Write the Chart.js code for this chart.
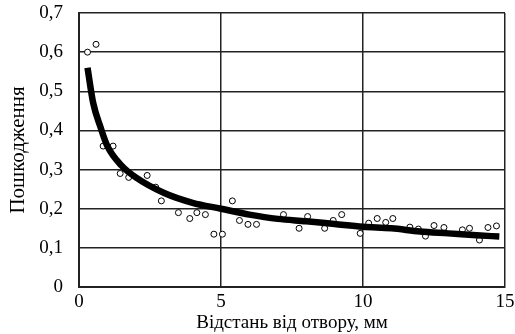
<!DOCTYPE html>
<html>
<head>
<meta charset="utf-8">
<script src="https://cdn.jsdelivr.net/npm/chart.js@4/dist/chart.umd.min.js"></script>
<style>
  html, body { margin: 0; padding: 0; background: #fff; }
  #wrap { width: 515px; height: 334px; }
</style>
</head>
<body>
<div id="wrap"><canvas id="c" width="515" height="334"></canvas></div>
<script>
// Measured points (distance, mm ; damage)
const pointX = [0.3, 0.6, 0.85, 1.2, 1.45, 1.75, 2.4, 2.7, 2.9, 3.5, 3.9, 4.15, 4.45, 4.75, 5.05, 5.4, 5.65, 5.95, 6.25, 7.2, 7.75, 8.05, 8.65, 8.95, 9.25, 9.9, 10.2, 10.5, 10.8, 11.05, 11.65, 11.95, 12.2, 12.5, 12.85, 13.5, 13.75, 14.1, 14.4, 14.7];
const pointY = [0.60, 0.62, 0.36, 0.36, 0.29, 0.28, 0.285, 0.255, 0.22, 0.19, 0.175, 0.19, 0.185, 0.135, 0.135, 0.22, 0.17, 0.16, 0.16, 0.185, 0.15, 0.18, 0.15, 0.17, 0.185, 0.137, 0.163, 0.175, 0.165, 0.175, 0.153, 0.148, 0.13, 0.157, 0.152, 0.146, 0.15, 0.12, 0.152, 0.156];

// Trend curve
const curveX = [0.3, 0.5, 0.75, 1.0, 1.5, 2, 3, 4, 5, 6, 7, 8, 9, 10, 11, 12, 13, 14, 14.8];
const curveY = [0.56, 0.47, 0.41, 0.36, 0.31, 0.28, 0.24, 0.215, 0.20, 0.185, 0.174, 0.168, 0.161, 0.154, 0.150, 0.142, 0.137, 0.132, 0.129];

const xTicks = [0, 5, 10, 15];
const yTicks = [0, 0.1, 0.2, 0.3, 0.4, 0.5, 0.6, 0.7];

const xTitle = 'Відстань від отвору, мм';
const yTitle = 'Пошкодження';

const fontFamily = '"Liberation Serif", "Times New Roman", serif';

const curveData = curveX.map((x, i) => ({ x: x, y: curveY[i] }));
const pointData = pointX.map((x, i) => ({ x: x, y: pointY[i] }));

new Chart(document.getElementById('c'), {
  type: 'scatter',
  data: {
    datasets: [
      {
        label: 'curve',
        data: curveData,
        showLine: true,
        borderColor: '#000',
        borderWidth: 6.5,
        pointRadius: 0,
        cubicInterpolationMode: 'monotone',
        fill: false
      },
      {
        label: 'points',
        data: pointData,
        showLine: false,
        pointRadius: 3,
        pointBorderWidth: 1,
        pointBorderColor: '#000',
        pointBackgroundColor: '#fff'
      }
    ]
  },
  options: {
    responsive: false,
    animation: false,
    devicePixelRatio: 1,
    layout: { padding: { left: 0, right: 10, top: 13, bottom: 0 } },
    plugins: {
      legend: { display: false },
      tooltip: { enabled: false }
    },
    scales: {
      x: {
        type: 'linear',
        min: 0, max: 15,
        afterBuildTicks: (s) => { s.ticks = xTicks.map(v => ({ value: v })); },
        afterFit: (s) => { s.height = 47; s.paddingLeft = 0; s.paddingRight = 0; },
        ticks: {
          color: '#000',
          padding: 4,
          font: { family: fontFamily, size: 19 },
          callback: (v) => String(v)
        },
        grid: { color: '#222', lineWidth: 1.5, drawTicks: false, tickLength: 0 },
        border: { display: true, color: '#222', width: 2 },
        title: {
          display: true,
          text: xTitle,
          color: '#000',
          font: { family: fontFamily, size: 19 },
          padding: { top: 0, bottom: 0 }
        }
      },
      y: {
        type: 'linear',
        min: 0, max: 0.7,
        afterBuildTicks: (s) => { s.ticks = yTicks.map(v => ({ value: v })); },
        afterFit: (s) => { s.width = 79; s.paddingTop = 0; s.paddingBottom = 0; },
        ticks: {
          color: '#000',
          padding: 16,
          font: { family: fontFamily, size: 19 },
          callback: (v) => (Math.round(v * 10) / 10).toString().replace('.', ',')
        },
        grid: { color: '#222', lineWidth: 1.5, drawTicks: false, tickLength: 0 },
        border: { display: true, color: '#222', width: 2 },
        title: {
          display: true,
          text: yTitle,
          color: '#000',
          font: { family: fontFamily, size: 21 },
          padding: { top: 6, bottom: 0 }
        }
      }
    }
  }
});
</script>
</body>
</html>
